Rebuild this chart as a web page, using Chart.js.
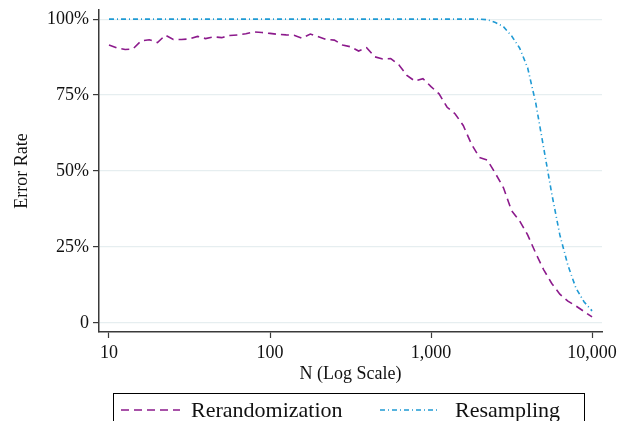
<!DOCTYPE html>
<html>
<head>
<meta charset="utf-8">
<script src="https://cdn.jsdelivr.net/npm/chart.js@4/dist/chart.umd.min.js"></script>
<style>
  body { margin: 0; background: #fff; }
  #wrap { width: 619px; height: 421px; position: relative; }
</style>
</head>
<body>
<div id="wrap"><canvas id="errorChart"></canvas></div>
<script>
// sample sizes (log spaced)
const sizes = [10, 11.2, 12.6, 14.1, 15.8, 17.8, 20, 22.4, 25.1, 28.2,
  31.6, 35.5, 39.8, 44.7, 50.1, 56.2, 63.1, 70.8, 79.4, 89.1,
  100, 112, 126, 141, 158, 178, 200, 224, 251, 282,
  316, 355, 398, 447, 501, 562, 631, 708, 794, 891,
  1000, 1122, 1259, 1413, 1585, 1778, 1995, 2239, 2512, 2818,
  3162, 3548, 3981, 4467, 5012, 5623, 6310, 7079, 7943, 8913, 10000];

// error rates in %
const rerandomization = [91.5, 90.5, 90, 90.2, 92.8, 93.2, 92.3, 94.7, 93.3, 93.3,
  93.5, 94.3, 93.6, 94.2, 93.9, 94.6, 94.8, 95.2, 95.8, 95.6,
  95.3, 95, 94.8, 94.7, 93.7, 95.1, 94.2, 93.3, 93.1, 91.5,
  90.9, 89.5, 90.6, 87.6, 86.9, 87, 85, 81.5, 79.6, 80.4,
  77.8, 75.4, 71, 68.8, 65, 59, 54.5, 53.6, 49.2, 44.5,
  37, 33.6, 29, 23, 17.5, 13, 9.5, 7.2, 5.6, 3.8, 2];

const resampling = [100, 100, 100, 100, 100, 100, 100, 100, 100, 100,
  100, 100, 100, 100, 100, 100, 100, 100, 100, 100,
  100, 100, 100, 100, 100, 100, 100, 100, 100, 100,
  100, 100, 100, 100, 100, 100, 100, 100, 100, 100,
  100, 100, 100, 100, 100, 100, 100, 99.8, 98.9, 97.5,
  94.5, 90.5, 84, 72.5, 57.5, 42.5, 29, 19, 11.5, 7, 4];

const xTicks = [10, 100, 1000, 10000];
const yTicks = [0, 25, 50, 75, 100];

const serif = "'Liberation Serif', 'Times New Roman', serif";
const axisColor = "#3a3a3a";
const gridColor = "#e6eef0";

// boxed legend under the axis title
const boxLegend = {
  id: "boxLegend",
  afterDraw(chart) {
    const ctx = chart.ctx;
    const ds = chart.data.datasets;
    ctx.save();
    ctx.strokeStyle = "#000";
    ctx.lineWidth = 1;
    ctx.strokeRect(113.5, 393.5, 471, 40);

    const items = [
      { x0: 121, x1: 180, tx: 191 },
      { x0: 380, x1: 440, tx: 455 }
    ];
    const y = 410;
    items.forEach((it, i) => {
      ctx.strokeStyle = ds[i].borderColor;
      ctx.lineWidth = ds[i].borderWidth;
      ctx.setLineDash(ds[i].borderDash);
      ctx.beginPath();
      ctx.moveTo(it.x0, y);
      ctx.lineTo(it.x1, y);
      ctx.stroke();
      ctx.setLineDash([]);
      ctx.fillStyle = "#111";
      ctx.font = "22px " + serif;
      ctx.textBaseline = "middle";
      ctx.fillText(ds[i].label, it.tx, y + 1);
    });
    ctx.restore();
  }
};

new Chart(document.getElementById("errorChart"), {
  type: "line",
  data: {
    labels: sizes,
    datasets: [
      {
        label: "Rerandomization",
        data: sizes.map((n, i) => ({ x: n, y: rerandomization[i] })),
        borderColor: "#8c1a8c",
        borderWidth: 1.6,
        borderDash: [8, 5],
        pointRadius: 0,
        tension: 0
      },
      {
        label: "Resampling",
        data: sizes.map((n, i) => ({ x: n, y: resampling[i] })),
        borderColor: "#1f9ad4",
        borderWidth: 1.6,
        borderDash: [5, 3, 1, 3],
        pointRadius: 0,
        tension: 0
      }
    ]
  },
  options: {
    responsive: true,
    maintainAspectRatio: false,
    animation: false,
    layout: { padding: { top: 10, right: 17, bottom: 35, left: 0 } },
    plugins: {
      legend: { display: false },
      tooltip: { enabled: false }
    },
    scales: {
      x: {
        type: "logarithmic",
        min: 8.67,
        max: 11530,
        afterBuildTicks: scale => { scale.ticks = xTicks.map(v => ({ value: v })); },
        afterFit: scale => { scale.height = 54; scale.paddingRight = 0; scale.paddingLeft = 0; },
        border: { color: axisColor, width: 1.5 },
        grid: { drawOnChartArea: false, drawTicks: true, tickLength: 6, tickColor: axisColor, tickWidth: 1.2 },
        ticks: {
          padding: 4,
          maxRotation: 0,
          color: "#111",
          font: { family: serif, size: 18 },
          callback: v => Number(v).toLocaleString("en-US")
        },
        title: {
          display: true,
          text: "N (Log Scale)",
          color: "#111",
          font: { family: serif, size: 18 },
          padding: { top: 0, bottom: 1 }
        }
      },
      y: {
        min: -2.96,
        max: 103,
        afterBuildTicks: scale => { scale.ticks = yTicks.map(v => ({ value: v })); },
        afterFit: scale => { scale.width = 99; scale.paddingTop = 0; scale.paddingBottom = 0; },
        border: { color: axisColor, width: 1.5 },
        grid: { color: gridColor, lineWidth: 1.2, drawTicks: true, tickLength: 6, tickColor: axisColor, tickWidth: 1.2 },
        ticks: {
          padding: 4,
          color: "#111",
          font: { family: serif, size: 18 },
          callback: v => v === 0 ? "0" : v + "%"
        },
        title: {
          display: true,
          text: "Error Rate",
          color: "#111",
          font: { family: serif, size: 18 },
          padding: { top: 11, bottom: 0 }
        }
      }
    }
  },
  plugins: [boxLegend]
});
</script>
</body>
</html>
